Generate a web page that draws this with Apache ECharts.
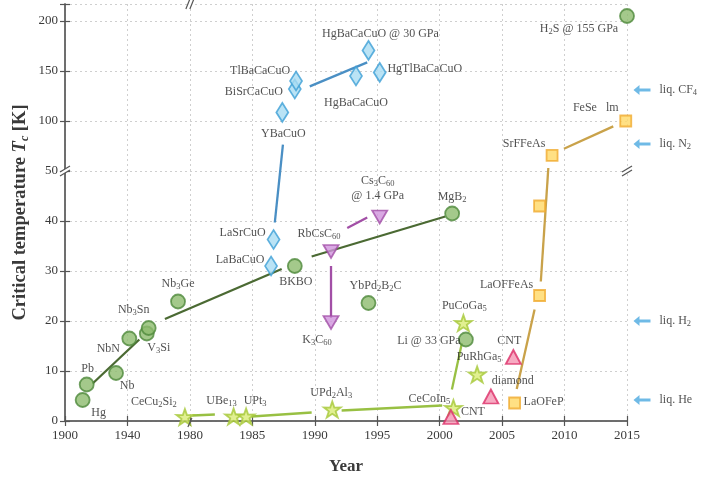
<!DOCTYPE html>
<html>
<head>
<meta charset="utf-8">
<script src="https://cdn.jsdelivr.net/npm/echarts@6/dist/echarts.min.js"></script>
<style>
  html, body { margin: 0; padding: 0; background: #fff; }
  #chart { width: 706px; height: 483px; }
</style>
</head>
<body>
<div id="chart"></div>
<script>
// Tick labels of the two broken axes
const yearTicks = ['1900', '1940', '1980', '1985', '1990', '1995', '2000', '2005', '2010', '2015'];
const tempTicks = ['0', '10', '20', '30', '40', '50', '100', '150', '200'];

// Conventional (BCS-type) superconductors
const convNames = ['Hg', 'Pb', 'Nb', 'NbN', 'V{s|3}Si', 'Nb{s|3}Sn', 'Nb{s|3}Ge', 'BKBO', 'YbPd{s|2}B{s|2}C', 'MgB{s|2}', 'Li @ 33 GPa', 'H{s|2}S @ 155 GPa'];
const convYears = [1911.3, 1913.9, 1932.7, 1941.2, 1952.4, 1953.6, 1972.4, 1988.4, 1994.3, 2001.0, 2002.1, 2015.0];
const convTc    = [4.2, 7.3, 9.6, 16.5, 17.5, 18.6, 23.9, 31, 23.6, 41.5, 16.3, 205];

// Cuprates
const cuprNames = ['LaBaCuO', 'LaSrCuO', 'YBaCuO', 'BiSrCaCuO', 'TlBaCaCuO', 'HgBaCaCuO', 'HgBaCaCuO @ 30 GPa', 'HgTlBaCaCuO'];
const cuprYears = [1986.5, 1986.7, 1987.4, 1988.4, 1988.5, 1993.3, 1994.3, 1995.2];
const cuprTc    = [31, 36.3, 108.6, 132, 140, 145, 170.6, 148.6];

// Fullerides
const fullNames = ['K{s|3}C{s|60}', 'RbCsC{s|60}', 'Cs{s|3}C{s|60}\n@ 1.4 GPa'];
const fullYears = [1991.3, 1991.3, 1995.2];
const fullTc    = [19.7, 33.9, 40.8];

// Heavy fermion compounds
const hfNames = ['CeCu{s|2}Si{s|2}', 'UBe{s|13}', 'UPt{s|3}', 'UPd{s|2}Al{s|3}', 'CeCoIn{s|5}', 'PuCoGa{s|5}', 'PuRhGa{s|5}'];
const hfYears = [1976.8, 1983.5, 1984.5, 1991.4, 2001.1, 2001.9, 2003.0];
const hfTc    = [0.8, 0.9, 0.9, 2.3, 2.6, 19.6, 9.3];

// Carbon allotropes
const carbNames = ['CNT', 'diamond', 'CNT'];
const carbYears = [2000.9, 2004.1, 2005.9];
const carbTc    = [0.8, 4.9, 12.8];

// Iron-based superconductors
const ironNames = ['LaOFeP', 'LaOFFeAs', '', 'SrFFeAs', 'FeSe   lm'];
const ironYears = [2006.0, 2008.0, 2008.0, 2009.0, 2014.9];
const ironTc    = [3.6, 25.1, 43, 65.6, 100];

// Trend segments per family: [year1, Tc1, year2, Tc2]
const convTrend = [[1917.7, 7.5, 1947.6, 16.3], [1964.0, 20.4, 1987.35, 30.4], [1989.75, 32.9, 2000.45, 40.9]];
const cuprTrend = [[1986.8, 39.7, 1987.45, 76.3], [1989.6, 134.6, 1994.2, 158.6]];
const fullTrend = [[1991.3, 31, 1991.3, 20.6], [1992.6, 38.6, 1994.2, 40.7]];
const hfTrend   = [[1980.2, 1.1, 1982.0, 1.3], [1984.95, 0.9, 1989.75, 1.7], [1992.15, 2.1, 2000.2, 3.1], [2000.98, 6.3, 2001.78, 15.6]];
const ironTrend = [[2006.17, 6.4, 2007.6, 22.3], [2008.1, 27.9, 2008.7, 53], [2009.95, 72.3, 2013.9, 94.6]];

// Boiling points of cryogenic liquids marked on the right-hand side
const liqNames = ['liq. CF{s|4}', 'liq. N{s|2}', 'liq. H{s|2}', 'liq. He'];
const liqTc    = [131, 77, 20, 4.2];

// Label offsets (px) relative to each marker, keyed by family
const labelOffsets = {
  conv: [[16, 13], [1, -16], [11, 13], [-21, 10], [12, 14], [-15, -18], [0, -18], [1, 16], [7, -17], [0, -17], [-37, 1], [-48, 13]],
  cupr: [[-31, -6], [-31, -7], [1, 21], [-41, 3], [-36, -10], [0, 27], [12, -17], [45, -4]],
  full: [[-14, 17], [-12, -18], [-2, -29]],
  hf:   [[-31, -15], [-12, -16], [9, -16], [-1, -17], [-24, -9], [1, -17], [2, -18]],
  carb: [[22, -5], [22, -16], [-4, -16]],
  iron: [[29, -1], [-33, -11], [0, 0], [-28, -12], [-30, -13]]
};

// Piecewise axis scales: 1900–1980 at 40 years per step, then 5 years per step;
// 0–50 K at 10 K per step, then 50 K per step.
function yearPos(y) { return y <= 1980 ? (y - 1900) / 40 : 2 + (y - 1980) / 5; }
function tempPos(t) { return t <= 50 ? t / 10 : 5 + (t - 50) / 50; }

const SERIF = '"Liberation Serif", "DejaVu Serif", serif';
const TEXT = '#262626';
const richSub = {
  s: { fontSize: 8.5, fontFamily: SERIF, color: TEXT, verticalAlign: 'bottom', lineHeight: 9 }
};

function pointSeries(names, years, tcs, offsets, sym) {
  return {
    type: 'scatter',
    clip: false,
    z: 5,
    symbol: sym.symbol,
    symbolSize: sym.size,
    symbolRotate: sym.rotate || 0,
    itemStyle: { color: sym.fill, borderColor: sym.stroke, borderWidth: 1.8 },
    label: {
      show: true,
      position: 'inside',
      fontFamily: SERIF,
      fontSize: 12,
      color: TEXT,
      lineHeight: 15,
      align: 'center',
      rich: richSub
    },
    emphasis: { disabled: true },
    data: names.map((n, i) => ({
      value: [yearPos(years[i]), tempPos(tcs[i])],
      label: { offset: offsets[i], formatter: n }
    }))
  };
}

function trendSeries(segs, color) {
  return segs.map(s => ({
    type: 'line',
    z: 3,
    symbol: 'none',
    silent: true,
    lineStyle: { color: color, width: 2.3 },
    data: [[yearPos(s[0]), tempPos(s[1])], [yearPos(s[2]), tempPos(s[3])]]
  }));
}

const styles = {
  conv: { symbol: 'circle', size: 14, fill: '#8dbb6e', stroke: '#4f8a3c' },
  cupr: { symbol: 'diamond', size: [12, 19], fill: '#a9dcf2', stroke: '#3c9fd6' },
  full: { symbol: 'triangle', size: [15, 13], rotate: 180, fill: '#cf93dc', stroke: '#a14ea6' },
  hf:   { symbol: 'path://M50,0 L61,32 L95,31 L68,52 L79,85 L50,65 L21,85 L32,52 L5,31 L39,32 Z', size: [17, 16], fill: '#d9ec76', stroke: '#a6c83a' },
  carb: { symbol: 'triangle', size: [15, 14], fill: '#f595b3', stroke: '#dc2e68' },
  iron: { symbol: 'rect', size: 11, fill: '#ffd865', stroke: '#f0aa2e' }
};

const series = [];
series.push(...trendSeries(convTrend, '#4b6a33'));
series.push(...trendSeries(cuprTrend, '#4a8fc4'));
series.push(...trendSeries(fullTrend, '#a24fa6'));
series.push(...trendSeries(hfTrend, '#98c043'));
series.push(...trendSeries(ironTrend, '#c9a24a'));

series.push(pointSeries(convNames, convYears, convTc, labelOffsets.conv, styles.conv));
series.push(pointSeries(cuprNames, cuprYears, cuprTc, labelOffsets.cupr, styles.cupr));
series.push(pointSeries(fullNames, fullYears, fullTc, labelOffsets.full, styles.full));
series.push(pointSeries(hfNames, hfYears, hfTc, labelOffsets.hf, styles.hf));
series.push(pointSeries(carbNames, carbYears, carbTc, labelOffsets.carb, styles.carb));
series.push(pointSeries(ironNames, ironYears, ironTc, labelOffsets.iron, styles.iron));

// Arrows pointing at the boiling points, just outside the right frame
const arrowYear = 2016.2;
series.push({
  type: 'scatter',
  clip: false,
  symbol: 'path://M0,5 L6,0 L6,3.4 L17,3.4 L17,6.6 L6,6.6 L6,10 Z',
  symbolSize: [17, 10],
  itemStyle: { color: '#4ba9e0' },
  label: {
    show: true, position: 'right', distance: 9,
    fontFamily: SERIF, fontSize: 12, color: TEXT, lineHeight: 15, rich: richSub
  },
  emphasis: { disabled: true },
  data: liqNames.map((n, i) => ({
    value: [yearPos(arrowYear), tempPos(liqTc[i])],
    label: { formatter: n }
  }))
});

const axisLine = { show: true, lineStyle: { color: '#666', width: 1.5 } };
const tickStyle = { show: true, inside: true, length: 5, lineStyle: { color: '#555', width: 1.2 } };
const gridLine = { show: true, lineStyle: { color: '#cfcfcf', type: [2, 3], width: 1 } };
const tickFont = { fontFamily: SERIF, fontSize: 13, color: '#3a3a3a' };

const chart = echarts.init(document.getElementById('chart'), null, { renderer: 'canvas' });
chart.setOption({
  backgroundColor: '#fff',
  animation: false,
  grid: { left: 65, right: 79, top: 4, bottom: 62, containLabel: false, outerBoundsMode: 'none' },
  xAxis: [{
    type: 'value', min: 0, max: 9, interval: 1, position: 'bottom',
    axisLine, axisTick: tickStyle, splitLine: gridLine,
    axisLabel: Object.assign({ margin: 8, formatter: v => yearTicks[v] || '' }, tickFont),
    name: 'Year', nameLocation: 'middle', nameGap: 37, nameMoveOverlap: false,
    nameTextStyle: { fontFamily: SERIF, fontSize: 17, fontWeight: 'bold', color: '#3a3a3a' }
  }, {
    type: 'value', min: 0, max: 9, interval: 1, position: 'top',
    axisLine, axisTick: tickStyle, splitLine: { show: false }, axisLabel: { show: false }
  }],
  yAxis: [{
    type: 'value', min: 0, max: 8.34, interval: 1, position: 'left',
    axisLine, axisTick: tickStyle, splitLine: gridLine,
    axisLabel: Object.assign({ margin: 7, formatter: v => (Number.isInteger(v) ? tempTicks[v] : '') || '' }, tickFont),
    name: 'Critical temperature {i|T}{c|c} [K]', nameLocation: 'middle', nameGap: 34, nameRotate: 90,
    nameMoveOverlap: false,
    nameTextStyle: {
      fontFamily: SERIF, fontSize: 18.5, fontWeight: 'bold', color: '#3a3a3a', lineHeight: 22,
      rich: {
        i: { fontFamily: SERIF, fontSize: 18.5, fontStyle: 'italic', fontWeight: 'bold', color: '#3a3a3a', lineHeight: 22 },
        c: { fontFamily: SERIF, fontSize: 12, fontStyle: 'italic', color: '#3a3a3a', verticalAlign: 'bottom', lineHeight: 12 }
      }
    }
  }, {
    type: 'value', min: 0, max: 8.34, interval: 1, position: 'right',
    axisLine, axisTick: tickStyle, splitLine: { show: false }, axisLabel: { show: false }
  }],
  series
});

// Break marks where the axis scale changes (1980 on the time axis, 50 K on the temperature axis)
function breakMarks() {
  const els = [];
  const px = v => chart.convertToPixel({ xAxisIndex: 0, yAxisIndex: 0 }, v);
  const top = px([yearPos(1980), 8.34]);
  const bot = px([yearPos(1980), 0]);
  const left = px([0, tempPos(50)]);
  const right = px([9, tempPos(50)]);
  const stroke = { stroke: '#555', lineWidth: 1.2 };
  // steep pair crossing a horizontal axis
  function onHorizontal(c) {
    els.push({ type: 'polygon', shape: { points: [[c[0] - 4, c[1] + 5], [c[0], c[1] - 5], [c[0] + 4, c[1] - 5], [c[0], c[1] + 5]] }, style: { fill: '#fff' }, z: 20 });
    els.push({ type: 'line', shape: { x1: c[0] - 4, y1: c[1] + 5, x2: c[0], y2: c[1] - 5 }, style: stroke, z: 21 });
    els.push({ type: 'line', shape: { x1: c[0], y1: c[1] + 5, x2: c[0] + 4, y2: c[1] - 5 }, style: stroke, z: 21 });
  }
  // shallow pair crossing a vertical axis
  function onVertical(c) {
    els.push({ type: 'polygon', shape: { points: [[c[0] - 5, c[1] + 1], [c[0] + 5, c[1] - 5], [c[0] + 5, c[1] - 1], [c[0] - 5, c[1] + 5]] }, style: { fill: '#fff' }, z: 20 });
    els.push({ type: 'line', shape: { x1: c[0] - 5, y1: c[1] + 1, x2: c[0] + 5, y2: c[1] - 5 }, style: stroke, z: 21 });
    els.push({ type: 'line', shape: { x1: c[0] - 5, y1: c[1] + 5, x2: c[0] + 5, y2: c[1] - 1 }, style: stroke, z: 21 });
  }
  onHorizontal(top);
  onVertical(left);
  onVertical(right);
  els.push({ type: 'line', shape: { x1: bot[0] - 2, y1: bot[1] + 6, x2: bot[0] + 2, y2: bot[1] - 3 }, style: stroke, z: 21 });
  chart.setOption({ graphic: els });
}
breakMarks();
</script>
</body>
</html>
